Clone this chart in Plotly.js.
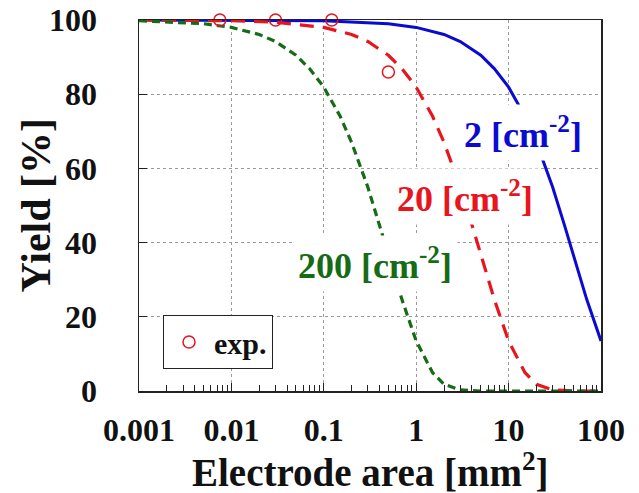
<!DOCTYPE html>
<html>
<head>
<meta charset="utf-8">
<script src="https://cdn.plot.ly/plotly-3.0.1.min.js"></script>
<style>html,body{margin:0;padding:0;background:#fff;}#chart{width:639px;height:493px;}</style>
</head>
<body>
<div id="chart"></div>
<script>
// Electrode area [mm2]
const areaBlue = [0.001, 0.01, 0.1, 0.5, 1, 2, 3, 5, 7, 10, 15, 20, 30, 40, 50, 70, 100];
const yieldBlue = [100, 100, 99.8, 99, 98, 96.1, 94.2, 90.5, 86.9, 81.9, 74.1, 67.0, 54.9, 44.9, 36.8, 24.7, 13.5];

const areaRed = [0.001, 0.01, 0.03, 0.1, 0.2, 0.3, 0.5, 0.7, 1, 1.5, 2, 3, 4, 5, 7, 10, 15, 20, 30, 50, 100];
const yieldRed = [100, 99.8, 99.4, 98, 96.1, 94.2, 90.5, 86.9, 81.9, 74.1, 67, 54.9, 44.9, 36.8, 24.7, 13.5, 5.0, 1.8, 0.3, 0, 0];

const areaGreen = [0.001, 0.003, 0.005, 0.01, 0.02, 0.03, 0.05, 0.07, 0.1, 0.15, 0.2, 0.3, 0.4, 0.5, 0.7, 1, 1.5, 2, 3, 5, 100];
const yieldGreen = [99.8, 99.4, 99, 98, 96.1, 94.2, 90.5, 86.9, 81.9, 74.1, 67, 54.9, 44.9, 36.8, 24.7, 13.5, 5.0, 1.8, 0.3, 0, 0];

const expArea = [0.0075, 0.030, 0.122, 0.50];
const expYield = [100, 100, 100, 86];

const xTickVals = [0.001, 0.01, 0.1, 1, 10, 100];
const xTickText = ["0.001", "0.01", "0.1", "1", "10", "100"];
const xMinorVals = [];
[0.001, 0.01, 0.1, 1, 10].forEach(d => { [2, 3, 4, 5, 6, 7, 8, 9].forEach(m => xMinorVals.push(d * m)); });
const yTickVals = [0, 20, 40, 60, 80, 100];

const labels = ["2 [cm<sup>-2</sup>]", "20 [cm<sup>-2</sup>]", "200 [cm<sup>-2</sup>]"];
const labelX = [14.3, 3.37, 0.358];
const labelY = [69.8, 52.3, 34.5];

const xTitle = "Electrode area [mm<sup>2</sup>]";
const yTitle = "Yield [%]";

const BLUE = "#0a0ad2", RED = "#e8141e", GREEN = "#166b16";
const FONT = "Liberation Serif, Times New Roman, serif";

const traces = [
  {x: areaBlue, y: yieldBlue, mode: "lines", line: {color: BLUE, width: 3}, showlegend: false, cliponaxis: false, hoverinfo: "skip"},
  {x: areaRed, y: yieldRed, mode: "lines", line: {color: RED, width: 3.2, dash: "14px,9px"}, showlegend: false, cliponaxis: false, hoverinfo: "skip"},
  {x: areaGreen, y: yieldGreen, mode: "lines", line: {color: GREEN, width: 3.2, dash: "8px,5px"}, showlegend: false, cliponaxis: false, hoverinfo: "skip"},
  {x: expArea, y: expYield, mode: "markers", name: "exp.", marker: {symbol: "circle-open", size: 12, color: RED, line: {width: 1.5, color: RED}}, cliponaxis: false}
];

const annotations = labels.map((t, i) => ({
  x: Math.log10(labelX[i]), y: labelY[i], xref: "x", yref: "y",
  text: "<b>" + t + "</b>", showarrow: false,
  font: {family: FONT, size: 36, color: [BLUE, RED, GREEN][i]},
  bgcolor: "#ffffff", borderpad: 5
}));
annotations.push({
  xref: "paper", yref: "paper", x: 0.5, y: -0.213, xanchor: "center", yanchor: "middle",
  text: "<b>" + xTitle + "</b>", showarrow: false,
  font: {family: FONT, size: 39, color: "#111"}
});
annotations.push({
  xref: "paper", yref: "paper", x: -0.225, y: 0.5, xanchor: "center", yanchor: "middle",
  textangle: -90, text: "<b>" + yTitle + "</b>", showarrow: false,
  font: {family: FONT, size: 42, color: "#111"}
});

const layout = {
  width: 639, height: 493,
  margin: {l: 139, r: 38, t: 20, b: 102},
  paper_bgcolor: "#fff", plot_bgcolor: "#fff",
  font: {family: FONT, color: "#111"},
  xaxis: {
    type: "log", range: [-3, 2],
    tickvals: xTickVals, ticktext: xTickText,
    ticks: "inside", ticklen: 8, tickwidth: 1, tickcolor: "#222",
    minor: {tickvals: xMinorVals, ticks: "inside", ticklen: 6, tickcolor: "#222", showgrid: false},
    showgrid: true, gridcolor: "#9a9a9a", griddash: "3px,3px", gridwidth: 1,
    showline: true, linecolor: "#222", linewidth: 1.5, mirror: true,
    tickfont: {family: FONT, size: 32, color: "#111", weight: "bold"},
    ticklabelstandoff: 10,
    zeroline: false
  },
  yaxis: {
    range: [0, 100], tickvals: yTickVals,
    ticks: "inside", ticklen: 8, tickcolor: "#222",
    showgrid: true, gridcolor: "#9a9a9a", griddash: "3px,3px", gridwidth: 1,
    showline: true, linecolor: "#222", linewidth: 1.5, mirror: true,
    tickfont: {family: FONT, size: 32, color: "#111", weight: "bold"},
    ticklabelstandoff: 34,
    zeroline: false
  },
  legend: {
    x: 0.052, y: 0.132, xanchor: "left", yanchor: "middle",
    bordercolor: "#222", borderwidth: 1, bgcolor: "#fff",
    itemwidth: 40, tracegroupgap: 0,
    font: {family: FONT, size: 30, color: "#111", weight: "bold"}
  },
  annotations: annotations
};

Plotly.newPlot("chart", traces, layout, {displayModeBar: false, staticPlot: true});
</script>
</body>
</html>
